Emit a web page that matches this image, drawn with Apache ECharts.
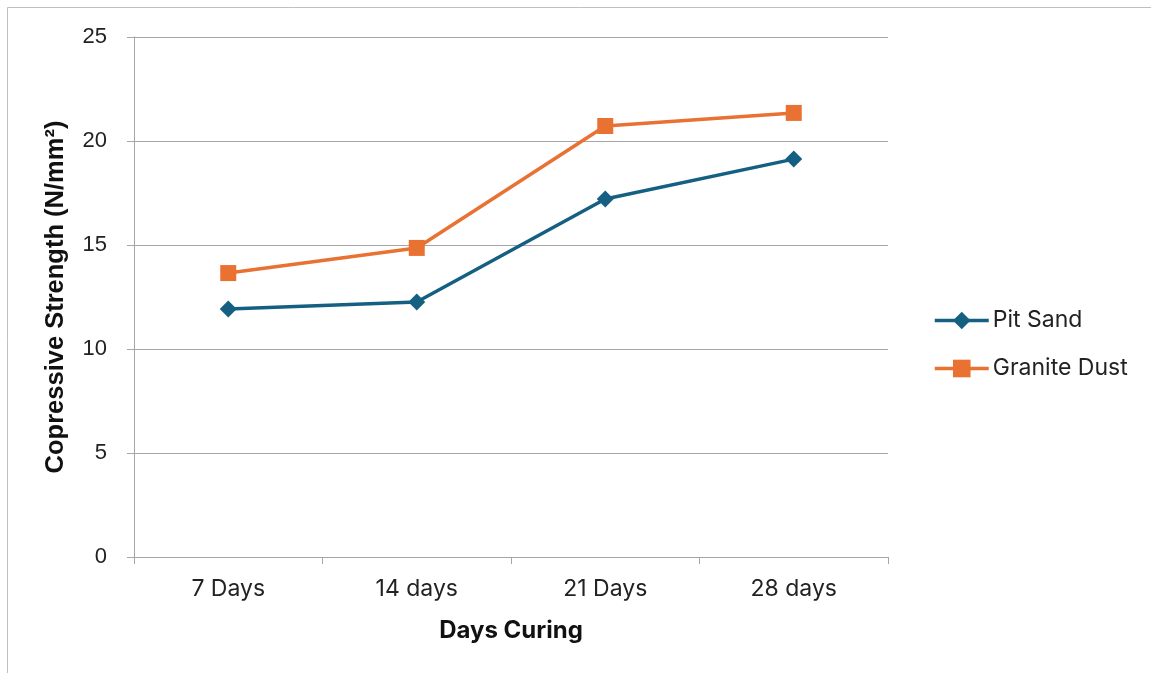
<!DOCTYPE html>
<html>
<head>
<meta charset="utf-8">
<script src="https://cdn.jsdelivr.net/npm/echarts@6/dist/echarts.min.js"></script>
<style>
  html, body { margin: 0; padding: 0; background: #fff; }
  #chart { width: 1151px; height: 673px; }
</style>
</head>
<body>
<div id="chart"></div>
<script>
// Compressive strength of concrete over curing time
const categories = ['7 Days', '14 days', '21 Days', '28 days'];
const pitSand = [11.92, 12.26, 17.21, 19.13];
const graniteDust = [13.65, 14.86, 20.72, 21.35];
const yTicks = [0, 5, 10, 15, 20, 25];

const BLUE = '#156082';
const ORANGE = '#E97132';
const GRID_COLOR = '#a6a6a6';
const FONT = '"Liberation Sans", Arial, sans-serif';
const FONT2 = 'Inter, "Noto Sans", sans-serif';

const chart = echarts.init(document.getElementById('chart'), null, { renderer: 'canvas' });

chart.setOption({
  backgroundColor: '#fff',
  animation: false,
  graphic: [{
    type: 'rect',
    shape: { x: 7.5, y: 7.5, width: 1160, height: 700 },
    style: { fill: 'none', stroke: '#bfbfbf', lineWidth: 1 },
    silent: true
  }],
  grid: { left: 134, right: 263, top: 37, bottom: 116 },
  legend: {
    orient: 'vertical',
    left: 928,
    top: 304,
    itemWidth: 54,
    itemHeight: 22,
    itemGap: 25,
    lineStyle: { width: 3.5 },
    textStyle: { fontFamily: FONT2, fontSize: 23, color: '#222', padding: [0, 0, 0, -1] },
    data: ['Pit Sand', 'Granite Dust']
  },
  xAxis: {
    type: 'category',
    data: categories,
    boundaryGap: true,
    name: 'Days Curing',
    nameLocation: 'middle',
    nameGap: 62,
    nameTextStyle: { fontFamily: FONT2, fontSize: 24, fontWeight: 'bold', color: '#111' },
    axisLine: { show: true, lineStyle: { color: GRID_COLOR, width: 1 } },
    axisTick: { show: true, length: 7, alignWithLabel: false, lineStyle: { color: GRID_COLOR } },
    axisLabel: { margin: 21, fontFamily: FONT2, fontSize: 23, color: '#222' },
    splitLine: { show: false }
  },
  yAxis: {
    type: 'value',
    min: 0,
    max: 25,
    interval: 5,
    name: 'Copressive Strength (N/mm²)',
    nameLocation: 'middle',
    nameGap: 65,
    nameRotate: 90,
    nameTextStyle: { fontFamily: FONT, fontSize: 25.5, fontWeight: 'bold', color: '#111' },
    axisLine: { show: true, lineStyle: { color: GRID_COLOR, width: 1 } },
    axisTick: { show: true, length: 7, lineStyle: { color: GRID_COLOR } },
    axisLabel: {
      margin: 27, fontFamily: FONT, fontSize: 22, color: '#222',
      formatter: v => yTicks.includes(v) ? String(v) : ''
    },
    splitLine: { show: true, lineStyle: { color: GRID_COLOR, width: 1 } }
  },
  series: [
    {
      name: 'Pit Sand',
      type: 'line',
      data: pitSand,
      symbol: 'diamond',
      symbolSize: 17,
      lineStyle: { color: BLUE, width: 3.5 },
      itemStyle: { color: BLUE },
      z: 3
    },
    {
      name: 'Granite Dust',
      type: 'line',
      data: graniteDust,
      symbol: 'rect',
      symbolSize: 16,
      lineStyle: { color: ORANGE, width: 3.5 },
      itemStyle: { color: ORANGE },
      z: 3
    }
  ]
});
</script>
</body>
</html>
